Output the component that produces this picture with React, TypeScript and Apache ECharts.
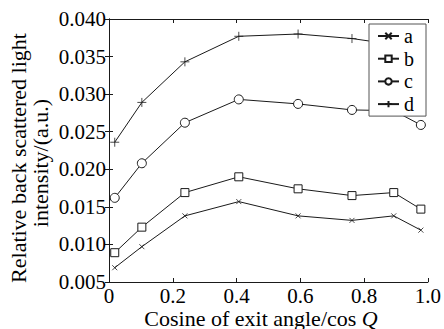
import React, { useEffect, useRef } from "react";
import * as echarts from "echarts";

const xValues = [0.018, 0.103, 0.238, 0.407, 0.593, 0.762, 0.893, 0.978];
const seriesA = [0.0069, 0.0097, 0.0138, 0.0157, 0.0138, 0.0132, 0.0138, 0.0119];
const seriesB = [0.0089, 0.0123, 0.0169, 0.019, 0.0174, 0.0165, 0.0169, 0.0147];
const seriesC = [0.0162, 0.0208, 0.0262, 0.0293, 0.0287, 0.0279, 0.0278, 0.0259];
const seriesD = [0.0236, 0.0289, 0.0343, 0.0377, 0.038, 0.0374, 0.0366, 0.0352];
const seriesNames = ["a", "b", "c", "d"];

const FONT = "Liberation Serif";
const INK = "#1a1a1a";

const crossPath = "path://M0,0L10,10M10,0L0,10";
const plusPath = "path://M5,0L5,10M0,5L10,5";

function pairs(ys: number[]) {
  return xValues.map((x, i) => [x, ys[i]]);
}

export default function App() {
  const ref = useRef<HTMLDivElement>(null);
  useEffect(() => {
    if (!ref.current) return;
    const chart = echarts.init(ref.current, undefined, { renderer: "svg" });
    const common = {
      type: "line",
      xAxisIndex: 0,
      yAxisIndex: 0,
      lineStyle: { color: INK, width: 1 },
      color: INK,
    };
    const axisCommon = {
      type: "value",
      axisLine: { show: true, lineStyle: { color: INK, width: 1 } },
      axisTick: { show: true, inside: true, length: 4, lineStyle: { color: INK } },
      splitLine: { show: false },
    };
    const tickLabel = (fmt: (v: number) => string) => ({
      color: "#000",
      margin: 3,
      fontFamily: FONT,
      fontSize: 21,
      formatter: (v: number) => fmt(v),
    });
    chart.setOption({
      animation: false,
      backgroundColor: "#fff",
      textStyle: { fontFamily: FONT },
      grid: { left: 109, right: 13, top: 19, bottom: 47 },
      xAxis: [
        {
          ...axisCommon,
          position: "bottom",
          min: 0,
          max: 1,
          interval: 0.2,
          axisLabel: tickLabel((v) => (v === 0 ? "0" : v.toFixed(1))),
        },
        {
          ...axisCommon,
          position: "top",
          min: 0,
          max: 1,
          interval: 0.2,
          axisLabel: { show: false },
        },
      ],
      yAxis: [
        {
          ...axisCommon,
          position: "left",
          min: 0.005,
          max: 0.04,
          interval: 0.005,
          axisLabel: tickLabel((v) => v.toFixed(3)),
        },
        {
          ...axisCommon,
          position: "right",
          min: 0.005,
          max: 0.04,
          interval: 0.005,
          axisLabel: { show: false },
        },
      ],
      legend: {
        data: seriesNames,
        orient: "vertical",
        left: 369,
        top: 24,
        itemWidth: 21,
        itemHeight: 8,
        itemGap: 2.7,
        padding: [2, 12, 2, 8],
        borderColor: "#555",
        borderWidth: 1,
        backgroundColor: "#fff",
        textStyle: {
          fontFamily: FONT,
          fontSize: 20,
          lineHeight: 14,
          color: "#000",
        },
      },
      series: [
        {
          ...common,
          name: seriesNames[0],
          data: pairs(seriesA),
          symbol: crossPath,
          symbolSize: 5,
          itemStyle: { color: "none", borderColor: INK, borderWidth: 0.8 },
        },
        {
          ...common,
          name: seriesNames[1],
          data: pairs(seriesB),
          symbol: "rect",
          symbolSize: 8,
          itemStyle: { color: "#fff", borderColor: INK, borderWidth: 1 },
        },
        {
          ...common,
          name: seriesNames[2],
          data: pairs(seriesC),
          symbol: "circle",
          symbolSize: 9,
          itemStyle: { color: "#fff", borderColor: INK, borderWidth: 1 },
        },
        {
          ...common,
          name: seriesNames[3],
          data: pairs(seriesD),
          symbol: plusPath,
          symbolSize: 9,
          itemStyle: { color: "none", borderColor: INK, borderWidth: 0.8 },
        },
      ],
      graphic: [
        {
          type: "text",
          x: 18,
          y: 158,
          rotation: Math.PI / 2,
          style: {
            text: "Relative back scattered light",
            font: `22px ${FONT}`,
            fill: "#000",
            textAlign: "center",
            textVerticalAlign: "middle",
          },
        },
        {
          type: "text",
          x: 40,
          y: 163,
          rotation: Math.PI / 2,
          style: {
            text: "intensity/(a.u.)",
            font: `22px ${FONT}`,
            fill: "#000",
            textAlign: "center",
            textVerticalAlign: "middle",
          },
        },
        {
          type: "text",
          x: 261,
          y: 318,
          style: {
            text: "Cosine of exit angle/cos {i|Q}",
            font: `22px ${FONT}`,
            fill: "#000",
            textAlign: "center",
            textVerticalAlign: "middle",
            rich: {
              i: { fontStyle: "italic", fontFamily: FONT, fontSize: 22, fill: "#000" },
            },
          },
        },
      ],
    });
    return () => chart.dispose();
  }, []);
  return (
    <div
      ref={ref}
      style={{ position: "absolute", left: 0, top: 0, width: 444, height: 329 }}
    />
  );
}
